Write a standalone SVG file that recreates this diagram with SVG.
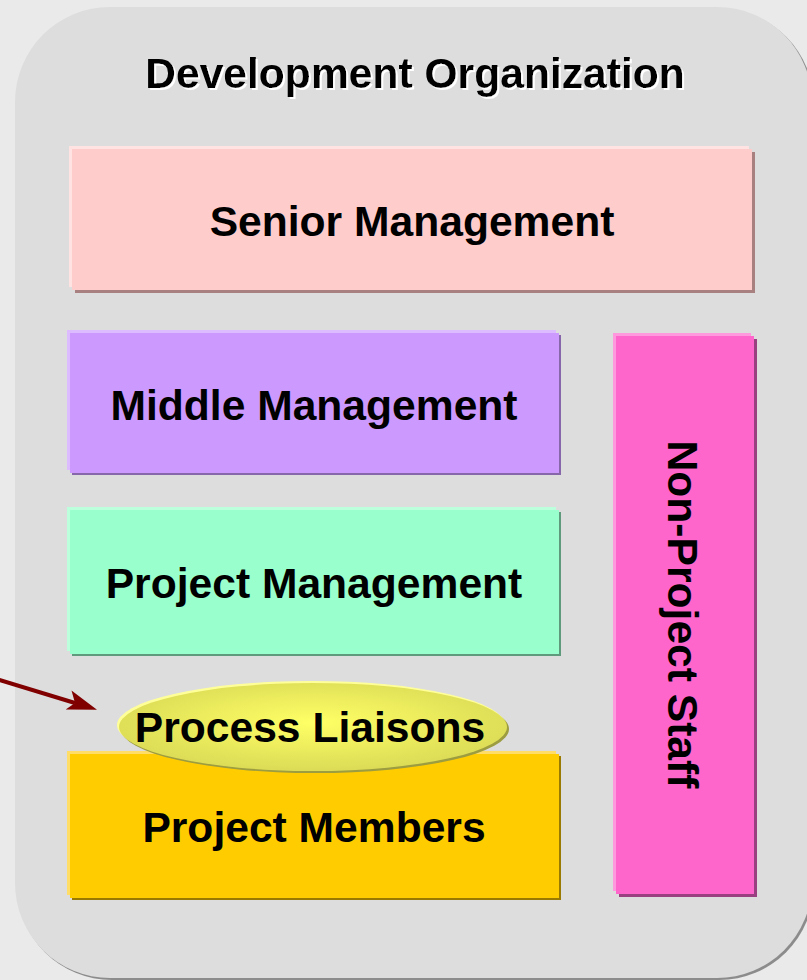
<svg xmlns="http://www.w3.org/2000/svg" width="807" height="980" viewBox="0 0 807 980">
<defs>
<style>
.t{font-family:"Liberation Sans",Arial,Helvetica,sans-serif;font-weight:bold;font-size:42.6px;text-anchor:middle;fill:#000}
</style>
<filter id="ws" x="-5%" y="-30%" width="110%" height="160%">
<feOffset in="SourceAlpha" dx="2" dy="2" result="o"/>
<feFlood flood-color="#ffffff"/>
<feComposite in2="o" operator="in" result="w"/>
<feMerge><feMergeNode in="w"/><feMergeNode in="SourceGraphic"/></feMerge>
</filter>
<radialGradient id="eg" cx="0.5" cy="0.45" r="0.6">
<stop offset="0" stop-color="#ffff66"/>
<stop offset="1" stop-color="#d8d855"/>
</radialGradient>
<marker id="ah" viewBox="0 -12 32 24" refX="7" refY="0" markerWidth="32" markerHeight="24" markerUnits="userSpaceOnUse" orient="auto">
<path d="M0,-11 L30,0 L0,9 L7,0 z" fill="#800000"/>
</marker>
</defs>
<rect x="0" y="0" width="807" height="980" fill="#eaeaea"/>
<g id="development-organization">
<rect x="17" y="9" width="797" height="971" rx="95" ry="95" fill="#8c8c8c"/>
<rect x="15" y="7" width="797" height="971" rx="95" ry="95" fill="#dddddd"/>
<text class="t" x="415" y="88" filter="url(#ws)">Development Organization</text>
</g>
<g id="senior-management">
<rect x="75" y="152" width="680" height="141" fill="#a88080"/>
<rect x="69" y="146" width="680" height="141" fill="#ffe2e2"/>
<rect x="72" y="149" width="680" height="141" fill="#ffcccc"/>
<text class="t" x="412" y="236">Senior Management</text>
</g>
<g id="middle-management">
<rect x="72" y="335" width="489" height="140" fill="#8866aa"/>
<rect x="67" y="330" width="489" height="140" fill="#ddbbff"/>
<rect x="70" y="333" width="489" height="140" fill="#cc99ff"/>
<text class="t" x="314" y="420">Middle Management</text>
</g>
<g id="project-management">
<rect x="72" y="512" width="489" height="144" fill="#5f9a7c"/>
<rect x="67" y="507" width="489" height="144" fill="#bbffdd"/>
<rect x="70" y="510" width="489" height="144" fill="#99ffcc"/>
<text class="t" x="314" y="598">Project Management</text>
</g>
<g id="project-members">
<rect x="72" y="756" width="489" height="144" fill="#9a7a00"/>
<rect x="67" y="751" width="489" height="144" fill="#ffdd66"/>
<rect x="70" y="754" width="489" height="144" fill="#ffcc00"/>
<text class="t" x="314" y="842">Project Members</text>
</g>
<g id="non-project-staff">
<rect x="619" y="339" width="138" height="558" fill="#994080"/>
<rect x="613" y="333" width="138" height="558" fill="#ff99dd"/>
<rect x="616" y="336" width="138" height="558" fill="#ff66cc"/>
<text class="t" transform="translate(668 614.5) rotate(90)" x="0" y="0">Non-Project Staff</text>
</g>
<g id="process-liaisons">
<ellipse cx="315" cy="729" rx="194" ry="44" fill="#9c9c40"/>
<ellipse cx="311" cy="725" rx="194" ry="44" fill="#ffff99"/>
<ellipse cx="313" cy="727" rx="194" ry="44" fill="url(#eg)"/>
<text class="t" x="310" y="742">Process Liaisons</text>
</g>
<g id="connectors">
<line x1="-4" y1="679" x2="75" y2="703" stroke="#800000" stroke-width="4" marker-end="url(#ah)"/>
</g>
</svg>
